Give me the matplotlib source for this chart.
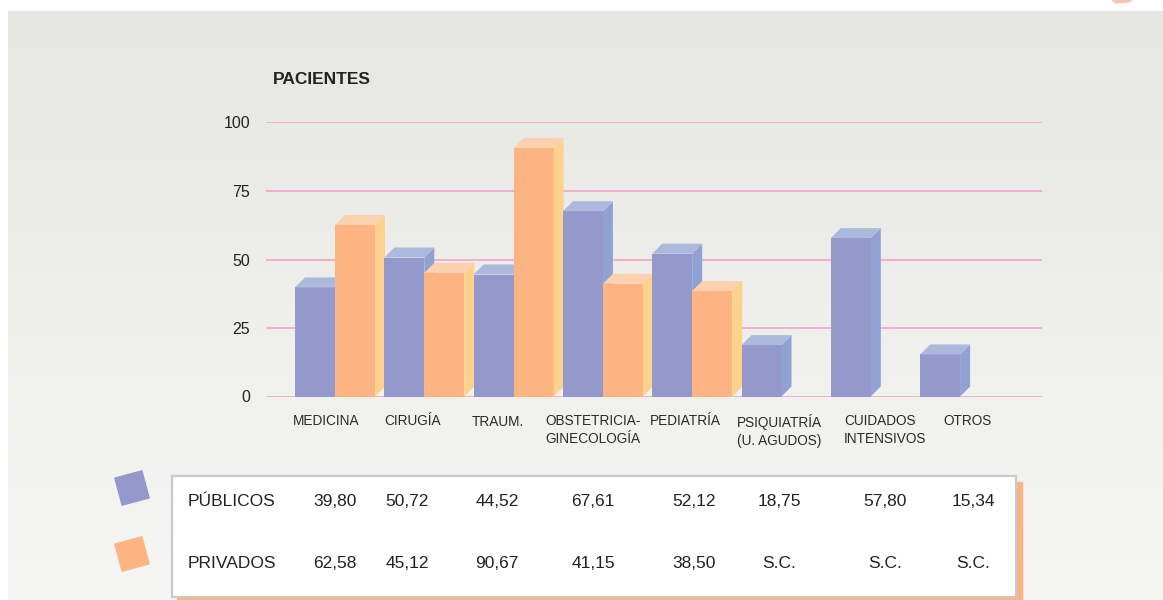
import matplotlib.pyplot as plt
import numpy as np
from matplotlib.patches import Polygon, Rectangle

W, H = 1163, 600

categorias = ["MEDICINA", "CIRUGÍA", "TRAUM.", "OBSTETRICIA-\nGINECOLOGÍA", "PEDIATRÍA",
              "PSIQUIATRÍA\n(U. AGUDOS)", "CUIDADOS\nINTENSIVOS", "OTROS"]
publicos = [39.80, 50.72, 44.52, 67.61, 52.12, 18.75, 57.80, 15.34]
privados = [62.58, 45.12, 90.67, 41.15, 38.50, None, None, None]
yticks = [0, 25, 50, 75, 100]

# colours: front, side, top
PUR = ("#9498cb", "#8fa2d3", "#adb8dd")
ORA = ("#fcb482", "#fed18d", "#fcd1b0")

# layout helpers (pixels)
label_dx = [-2, 0, -1.5, -18, -2.5, -4.5, 13, 23]
label_dy = [0, 0, 1.5, 0, 0, 0, 0, 0]
col_x = [335, 407, 497, 593, 694, 779, 885, 973]

plt.rcParams['font.family'] = ['Liberation Sans', 'DejaVu Sans']

fig = plt.figure(figsize=(W / 100, H / 100), dpi=100)
bg = fig.add_axes([0, 0, 1, 1])
bg.set_xlim(0, W)
bg.set_ylim(H, 0)
bg.axis("off")

# grey gradient panel
grad = np.linspace(0, 1, 256)[:, None]
top_c = np.array([0.902, 0.902, 0.886])
bot_c = np.array([0.965, 0.965, 0.957])
img = top_c + (bot_c - top_c) * grad[..., None]
img = np.repeat(img, 2, axis=1)
bg.imshow(img, extent=[8, W, H, 11], aspect="auto", zorder=0)
bg.add_patch(Polygon([[1112, 0], [1132, 0], [1128, 2], [1116, 3]], closed=True,
                     color="#fcc3b5", zorder=1))

bg.text(273, 79, "PACIENTES", fontsize=12.5, fontweight="bold", color="#222222",
        va="center", ha="left")

# table box
bg.add_patch(Rectangle((177, 482), 845, 120, color="#fbb382", zorder=1))
bg.add_patch(Rectangle((171.5, 475.5), 844, 121, facecolor="white",
                       edgecolor="#c9c9cd", lw=1.6, zorder=2))


def fmt(v):
    return "S.C." if v is None else f"{v:.2f}".replace(".", ",")


for row_y, name, vals, col in [(502, "PÚBLICOS", publicos, PUR[0]),
                               (564, "PRIVADOS", privados, ORA[0])]:
    bg.text(188, row_y, name, fontsize=12.5, color="#222222", va="center", ha="left", zorder=3)
    for x, v in zip(col_x, vals):
        bg.text(x, row_y, fmt(v), fontsize=12.5, color="#222222", va="center", ha="center", zorder=3)
    # tilted legend square
    ang = np.deg2rad(15)
    s = 14
    pts = np.array([[-s, -s], [s, -s], [s, s], [-s, s]], dtype=float)
    rot = np.array([[np.cos(ang), np.sin(ang)], [-np.sin(ang), np.cos(ang)]])
    pts = pts @ rot.T + np.array([132, row_y - 14 if name == "PÚBLICOS" else row_y - 10])
    bg.add_patch(Polygon(pts, closed=True, color=col, zorder=2))

# category labels
n = len(categorias)
for i, lab in enumerate(categorias):
    bg.text(295 + 89.3 * i + label_dx[i], 414 + label_dy[i], lab, fontsize=9.8,
            color="#2a2a2a", va="top", ha="left", linespacing=1.32)

# chart axes
x0, x1 = 266, 1042
y0, y1 = 396.5, 122.5
ax = fig.add_axes([x0 / W, (H - y0) / H, (x1 - x0) / W, (y0 - y1) / H])
ax.patch.set_alpha(0)
gap = 89.3
ax.set_xlim((x0 - 335) / gap, (x1 - 335) / gap)
ax.set_ylim(0, 100)
for sp in ax.spines.values():
    sp.set_visible(False)
ax.set_xticks([])
ax.set_yticks(yticks)
ax.set_yticklabels([str(t) for t in yticks], fontsize=11.5, color="#222222")
ax.tick_params(axis="y", length=0, pad=11.5)
for t in yticks:
    ax.axhline(t, color="#f3a8cb", lw=1.3, zorder=1)

w = 40 / gap
dx = 10 / gap
dy = 10 / ((y0 - y1) / 100)

x = np.arange(n)


def bar3d(left, h, cols, z):
    ax.bar(left, h, width=w, align="edge", color=cols[0], lw=0, zorder=z)
    side = [[left + w, 0], [left + w + dx, dy], [left + w + dx, h + dy], [left + w, h]]
    top = [[left, h], [left + dx, h + dy], [left + w + dx, h + dy], [left + w, h]]
    ax.add_patch(Polygon(side, closed=True, color=cols[1], lw=0, zorder=z, clip_on=False))
    ax.add_patch(Polygon(top, closed=True, color=cols[2], lw=0, zorder=z, clip_on=False))


for i in range(n):
    bar3d(x[i] - w, publicos[i], PUR, 2 + 2 * i)
    if privados[i] is not None:
        bar3d(x[i], privados[i], ORA, 3 + 2 * i)

fig.savefig("out.png", dpi=100)
